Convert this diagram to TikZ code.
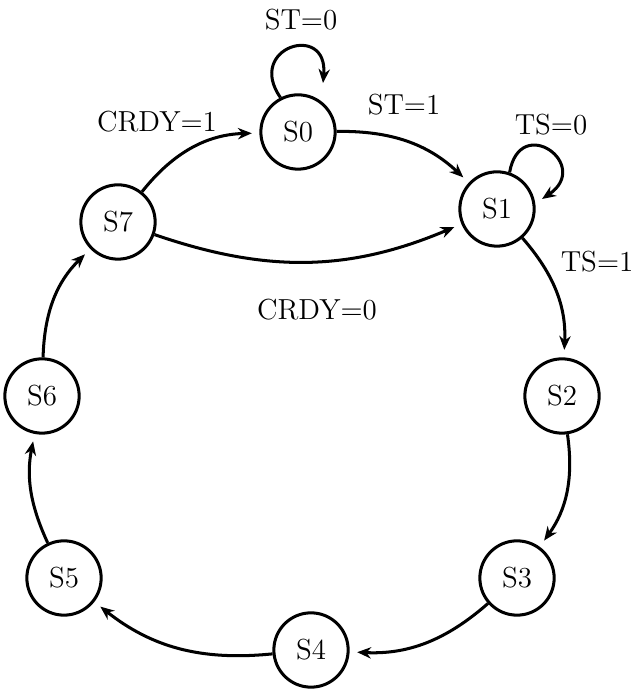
\documentclass[tikz,border=0pt]{standalone}
\usepackage{tikz}
\usetikzlibrary{arrows.meta}

\begin{document}
\begin{tikzpicture}[x=0.397pt,y=0.397pt,>={Stealth[length=5.5pt,width=4.5pt]},
    every node/.style={font=\fontsize{11.5pt}{14pt}\selectfont},
    state/.style={circle,draw,very thick,minimum size=29.5pt,inner sep=0pt},
    trans/.style={->,very thick,shorten >=3pt}]
  \useasboundingbox (0,0) rectangle (634,689);
  % states
  \node[state] (s0) at (298,557) {S0};
  \node[state] (s1) at (497,480) {S1};
  \node[state] (s2) at (562,293) {S2};
  \node[state] (s3) at (517,111) {S3};
  \node[state] (s4) at (311,39) {S4};
  \node[state] (s5) at (64,111) {S5};
  \node[state] (s6) at (42,293) {S6};
  \node[state] (s7) at (118,467) {S7};
  % loop ends
  \coordinate (s0tip) at (323,606);
  \coordinate (s1tip) at (542,490);
  % transitions
  \draw[trans,shorten >=0pt] (s0.117) to[out=125,in=85,looseness=3.5] (s0tip);
  \draw[trans,shorten >=0pt] (s1.71) to[out=80,in=34,looseness=3.7] (s1tip);
  \draw[trans] (s0) to[bend left=22] (s1);
  \draw[trans] (s1) to[bend left=22] (s2);
  \draw[trans] (s2) to[bend left=22] (s3);
  \draw[trans] (s3) to[bend left=22] (s4);
  \draw[trans] (s4) to[bend left=22] (s5);
  \draw[trans] (s5) to[bend left=18] (s6);
  \draw[trans] (s6) to[bend left=22] (s7);
  \draw[trans] (s7) to[bend left=25] (s0);
  \draw[trans] (s7) to[bend right=21] (s1);
  % conditions
  \node (st0) at (301,669) {ST=0};
  \node (st1) at (404,584) {ST=1};
  \node (ts0) at (551,564) {TS=0};
  \node (ts1) at (597,427) {TS=1};
  \node (crdy1) at (157,567) {CRDY=1};
  \node (crdy0) at (317,379) {CRDY=0};
\end{tikzpicture}
\end{document}
